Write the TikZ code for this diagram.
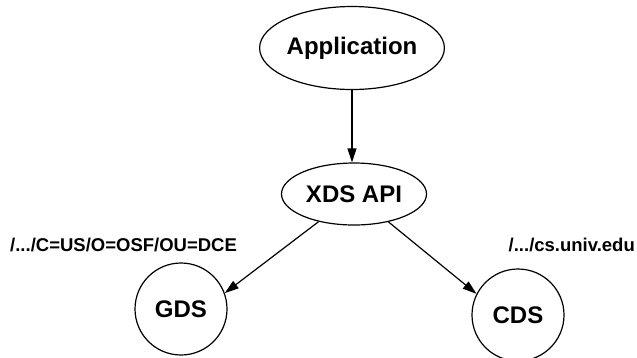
\documentclass[tikz,border=0pt]{standalone}
\usepackage{fontspec}
\setmainfont{Liberation Sans}
\usepackage{tikz}
\usetikzlibrary{arrows.meta, shapes.geometric, positioning}

\begin{document}
\begin{tikzpicture}[
    x=1pt, y=-1pt,
    oval/.style={ellipse, draw=black, line width=1.2pt, inner sep=0pt, font=\fontsize{24}{27}\selectfont\bfseries},
    dsnode/.style={circle, draw=black, line width=1.2pt, inner sep=0pt, minimum size=92pt, font=\fontsize{24}{27}\selectfont\bfseries},
    dsname/.style={font=\fontsize{18.5}{21}\selectfont\bfseries, inner sep=0pt},
    arrow/.style={-{Triangle[length=14pt,width=9pt]}, line width=1.2pt}
]
\useasboundingbox (0,0) rectangle (637,357);
\node[oval, minimum width=162pt, minimum height=83pt] (app) at (352, 48) {Application};
\node[oval, minimum width=145pt, minimum height=62pt] (xds) at (354, 194) {XDS API};
\node[dsnode] (gds) at (181, 309) {GDS};
\node[dsnode] (cds) at (518, 315) {CDS};
\node[dsname, anchor=west] (gdsname) at (10, 245) {/.../C=US/O=OSF/OU=DCE};
\node[dsname, anchor=east] (cdsname) at (635, 245) {/.../cs.univ.edu};
\draw[arrow] (app.south) -- (app.south |- xds.north);
\draw[arrow] (xds.218) -- (gds.20);
\draw[arrow] (xds.321) -- (cds.153);
\end{tikzpicture}
\end{document}
